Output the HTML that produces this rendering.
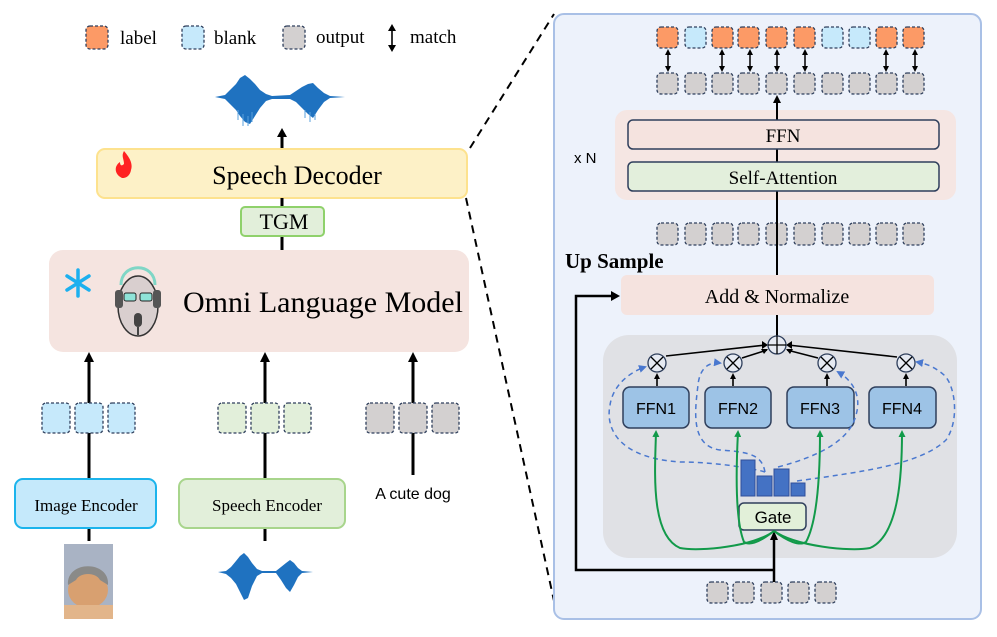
<!DOCTYPE html>
<html><head><meta charset="utf-8"><style>
html,body{margin:0;padding:0;background:#fff;}
svg{display:block;}
.serif{font-family:"Liberation Serif",serif;}
.sans{font-family:"Liberation Sans",sans-serif;}
</style></head><body>
<svg width="997" height="637" viewBox="0 0 997 637" xmlns="http://www.w3.org/2000/svg">
<defs>
<marker id="ahg" markerWidth="7" markerHeight="7" refX="5" refY="3.5" orient="auto" markerUnits="userSpaceOnUse"><path d="M0,0 L7,3.5 L0,7 z" fill="#129a4a"/></marker>
<marker id="ahb" markerWidth="8" markerHeight="8" refX="6" refY="4" orient="auto" markerUnits="userSpaceOnUse"><path d="M0,0 L8,4 L0,8 z" fill="#4a78cf"/></marker>
</defs>

<!-- dashed zoom lines -->
<line x1="470" y1="148" x2="554" y2="14" stroke="#000" stroke-width="2" stroke-dasharray="8,6"/>
<line x1="466" y1="198" x2="556" y2="610" stroke="#000" stroke-width="2" stroke-dasharray="8,6"/>

<!-- legend -->
<rect x="86" y="26" width="22" height="23" rx="4" fill="#fc9a66" stroke="#2f3f5c" stroke-width="1.3" stroke-dasharray="3,2"/>
<text x="120" y="44" class="serif" font-size="19">label</text>
<rect x="182" y="26" width="22" height="23" rx="4" fill="#c6e9fb" stroke="#2f3f5c" stroke-width="1.3" stroke-dasharray="3,2"/>
<text x="214" y="44" class="serif" font-size="19">blank</text>
<rect x="283" y="26" width="22" height="23" rx="4" fill="#d3d0d0" stroke="#2f3f5c" stroke-width="1.3" stroke-dasharray="3,2"/>
<text x="316" y="43" class="serif" font-size="19">output</text>
<line x1="392" y1="27" x2="392" y2="49" stroke="#000" stroke-width="1.6"/>
<path d="M388,31 L392,24 L396,31z M388,45 L392,52 L396,45z" fill="#000"/>
<text x="410" y="43" class="serif" font-size="19">match</text>

<!-- top waveform -->
<path d="M215,97 L225,95 L230,90 L236,84 L240,78 L245,75 L250,79 L255,84 L260,90 L266,94 L272,96 L290,95 L296,91 L302,87 L308,84 L313,83 L318,88 L324,93 L330,96 L345,97 L330,98 L324,102 L318,110 L313,118 L308,114 L302,108 L296,102 L290,99 L272,99 L266,101 L260,108 L255,116 L250,124 L245,122 L240,116 L236,110 L230,104 L225,99z" fill="#1f72c0"/>
<g stroke="#5aa0dc" stroke-width="1">
<path d="M238,110 L238,120 M243,114 L243,126 M248,116 L248,126 M252,112 L252,122 M305,110 L305,118 M310,112 L310,122 M315,114 L315,120"/>
</g>
<line x1="282" y1="148" x2="282" y2="136" stroke="#000" stroke-width="3"/>
<path d="M277,137 L282,128 L287,137z" fill="#000"/>

<!-- speech decoder -->
<rect x="97" y="149" width="370" height="49" rx="8" fill="#fdf1c7" stroke="#fde28e" stroke-width="2"/>
<path d="M122,178 C114,174 114,166 120,162 C120,166 122,166 124,164 C124,159 121,156 124,151 C130,158 133,164 131,170 C130,176 126,178 122,178z" fill="#f22"/>
<text x="297" y="184" text-anchor="middle" class="serif" font-size="26">Speech Decoder</text>
<line x1="282" y1="198" x2="282" y2="250" stroke="#000" stroke-width="3"/>
<rect x="241" y="207" width="83" height="29" rx="4" fill="#e2efda" stroke="#8fd16b" stroke-width="2"/>
<text x="284" y="229" text-anchor="middle" class="serif" font-size="22">TGM</text>

<!-- omni -->
<rect x="49" y="250" width="420" height="102" rx="14" fill="#f5e4e0"/>
<g stroke="#1cb0ef" stroke-width="3.5" stroke-linecap="round">
<line x1="78" y1="270" x2="78" y2="296"/><line x1="67" y1="276" x2="89" y2="290"/><line x1="67" y1="290" x2="89" y2="276"/>
</g>
<g>
<ellipse cx="138" cy="306" rx="20" ry="30" fill="#d9cfcf" stroke="#333" stroke-width="1.5"/>
<path d="M121,285 C121,262 155,262 155,285" fill="none" stroke="#7fd6c6" stroke-width="3"/>
<rect x="115" y="290" width="8" height="18" rx="3" fill="#555"/><rect x="153" y="290" width="8" height="18" rx="3" fill="#555"/>
<rect x="124" y="293" width="12" height="8" rx="2" fill="#8fe3d8" stroke="#222"/><rect x="140" y="293" width="12" height="8" rx="2" fill="#8fe3d8" stroke="#222"/>
<rect x="134" y="313" width="8" height="14" rx="4" fill="#444"/><line x1="138" y1="327" x2="138" y2="335" stroke="#444" stroke-width="2"/>
</g>
<text x="183" y="312" class="serif" font-size="30">Omni Language Model</text>

<!-- inputs -->
<g stroke="#000" stroke-width="3">
<line x1="89" y1="478" x2="89" y2="360"/><line x1="265" y1="478" x2="265" y2="360"/><line x1="413" y1="475" x2="413" y2="360"/>
<line x1="89" y1="528" x2="89" y2="541"/><line x1="265" y1="528" x2="265" y2="541"/>
</g>
<path d="M84,362 L89,352 L94,362z M260,362 L265,352 L270,362z M408,362 L413,352 L418,362z" fill="#000"/>
<g stroke="#2f3f5c" stroke-dasharray="3,2" stroke-width="1.3">
<rect x="42" y="403" width="28" height="30" rx="4" fill="#c6e9fb"/><rect x="75" y="403" width="28" height="30" rx="4" fill="#c6e9fb"/><rect x="108" y="403" width="27" height="30" rx="4" fill="#c6e9fb"/>
<rect x="218" y="403" width="28" height="30" rx="4" fill="#e2efda"/><rect x="251" y="403" width="28" height="30" rx="4" fill="#e2efda"/><rect x="284" y="403" width="27" height="30" rx="4" fill="#e2efda"/>
<rect x="366" y="403" width="28" height="30" rx="4" fill="#d3d0d0"/><rect x="399" y="403" width="28" height="30" rx="4" fill="#d3d0d0"/><rect x="432" y="403" width="27" height="30" rx="4" fill="#d3d0d0"/>
</g>
<rect x="15" y="479" width="141" height="49" rx="8" fill="#c5e9fb" stroke="#1cb4ec" stroke-width="2"/>
<text x="86" y="511" text-anchor="middle" class="serif" font-size="17">Image Encoder</text>
<rect x="179" y="479" width="166" height="49" rx="8" fill="#e2efda" stroke="#a8d58c" stroke-width="2"/>
<text x="267" y="511" text-anchor="middle" class="serif" font-size="17">Speech Encoder</text>
<text x="413" y="499" text-anchor="middle" class="sans" font-size="16">A cute dog</text>
<!-- dog -->
<rect x="64" y="544" width="49" height="75" fill="#a9b3c4"/>
<ellipse cx="88" cy="590" rx="20" ry="18" fill="#d8a070"/>
<path d="M68,585 C66,560 110,560 108,585 L100,580 C96,572 80,572 76,580z" fill="#8a8a88"/>
<rect x="64" y="605" width="49" height="14" fill="#e2b58a"/>
<!-- bottom waveform -->
<path d="M218,572 L226,571 L231,567 L236,561 L240,556 L244,553 L248,557 L252,563 L257,569 L262,571 L276,571 L281,567 L286,563 L290,560 L294,563 L298,568 L302,571 L313,572 L302,573 L298,577 L294,585 L290,592 L286,588 L281,580 L276,573 L262,573 L257,576 L252,586 L248,598 L244,600 L240,592 L236,584 L231,578 L226,574z" fill="#1f72c0"/>

<!-- right panel -->
<rect x="554" y="14" width="427" height="605" rx="10" fill="#edf2fb" stroke="#a9c0e6" stroke-width="2"/>
<g stroke="#2f3f5c" stroke-dasharray="3,2" stroke-width="1.3">
<rect x="657" y="27" width="21" height="21" rx="4" fill="#fc9a66"/>
<rect x="685" y="27" width="21" height="21" rx="4" fill="#c6e9fb"/>
<rect x="712" y="27" width="21" height="21" rx="4" fill="#fc9a66"/>
<rect x="738" y="27" width="21" height="21" rx="4" fill="#fc9a66"/>
<rect x="766" y="27" width="21" height="21" rx="4" fill="#fc9a66"/>
<rect x="794" y="27" width="21" height="21" rx="4" fill="#fc9a66"/>
<rect x="822" y="27" width="21" height="21" rx="4" fill="#c6e9fb"/>
<rect x="849" y="27" width="21" height="21" rx="4" fill="#c6e9fb"/>
<rect x="876" y="27" width="21" height="21" rx="4" fill="#fc9a66"/>
<rect x="903" y="27" width="21" height="21" rx="4" fill="#fc9a66"/>
</g>
<g stroke="#2f3f5c" stroke-dasharray="3,2" stroke-width="1.3" fill="#d3d0d0">
<rect x="657" y="73" width="21" height="21" rx="4"/><rect x="685" y="73" width="21" height="21" rx="4"/><rect x="712" y="73" width="21" height="21" rx="4"/><rect x="738" y="73" width="21" height="21" rx="4"/><rect x="766" y="73" width="21" height="21" rx="4"/><rect x="794" y="73" width="21" height="21" rx="4"/><rect x="822" y="73" width="21" height="21" rx="4"/><rect x="849" y="73" width="21" height="21" rx="4"/><rect x="876" y="73" width="21" height="21" rx="4"/><rect x="903" y="73" width="21" height="21" rx="4"/>
<rect x="657" y="223" width="21" height="22" rx="4"/><rect x="685" y="223" width="21" height="22" rx="4"/><rect x="712" y="223" width="21" height="22" rx="4"/><rect x="738" y="223" width="21" height="22" rx="4"/><rect x="766" y="223" width="21" height="22" rx="4"/><rect x="794" y="223" width="21" height="22" rx="4"/><rect x="822" y="223" width="21" height="22" rx="4"/><rect x="849" y="223" width="21" height="22" rx="4"/><rect x="876" y="223" width="21" height="22" rx="4"/><rect x="903" y="223" width="21" height="22" rx="4"/>
<rect x="707" y="582" width="21" height="21" rx="4"/><rect x="733" y="582" width="21" height="21" rx="4"/><rect x="761" y="582" width="21" height="21" rx="4"/><rect x="788" y="582" width="21" height="21" rx="4"/><rect x="815" y="582" width="21" height="21" rx="4"/>
</g>
<g stroke="#000" stroke-width="1.5">
<line x1="668" y1="53" x2="668" y2="68"/><line x1="722" y1="53" x2="722" y2="68"/><line x1="750" y1="53" x2="750" y2="68"/><line x1="777" y1="53" x2="777" y2="68"/><line x1="805" y1="53" x2="805" y2="68"/><line x1="886" y1="53" x2="886" y2="68"/><line x1="915" y1="53" x2="915" y2="68"/>
</g>
<g fill="#000">
<path d="M665,55 L668,49 L671,55z M665,66 L668,72 L671,66z"/>
<path d="M719,55 L722,49 L725,55z M719,66 L722,72 L725,66z"/>
<path d="M747,55 L750,49 L753,55z M747,66 L750,72 L753,66z"/>
<path d="M774,55 L777,49 L780,55z M774,66 L777,72 L780,66z"/>
<path d="M802,55 L805,49 L808,55z M802,66 L805,72 L808,66z"/>
<path d="M883,55 L886,49 L889,55z M883,66 L886,72 L889,66z"/>
<path d="M912,55 L915,49 L918,55z M912,66 L915,72 L918,66z"/>
</g>
<rect x="615" y="110" width="341" height="90" rx="12" fill="#f5e6e3"/>
<line x1="777" y1="315" x2="777" y2="98" stroke="#000" stroke-width="2"/>
<path d="M773,103 L777,95 L781,103z" fill="#000"/>
<rect x="628" y="120" width="311" height="29" rx="5" fill="#f5e3df" stroke="#2f3f5c" stroke-width="1.5"/>
<text x="783" y="142" text-anchor="middle" class="serif" font-size="19">FFN</text>
<rect x="628" y="162" width="311" height="29" rx="5" fill="#e3efdc" stroke="#2f3f5c" stroke-width="1.5"/>
<text x="783" y="184" text-anchor="middle" class="serif" font-size="19">Self-Attention</text>
<text x="574" y="163" class="sans" font-size="15">x N</text>
<text x="565" y="268" class="serif" font-size="21" font-weight="bold">Up Sample</text>
<rect x="621" y="275" width="313" height="40" rx="6" fill="#f5e3df"/>
<text x="777" y="303" text-anchor="middle" class="serif" font-size="20">Add &amp; Normalize</text>

<rect x="603" y="335" width="354" height="223" rx="26" fill="#e0e1e5"/>
<line x1="777" y1="315" x2="777" y2="336" stroke="#000" stroke-width="2"/>
<polyline points="774,570 576,570 576,296 612,296" fill="none" stroke="#000" stroke-width="2.5"/>
<path d="M611,291 L620,296 L611,301z" fill="#000"/>
<line x1="774" y1="582" x2="774" y2="538" stroke="#000" stroke-width="2.5"/>
<path d="M770,540 L774,531 L778,540z" fill="#000"/>
<g stroke="#000" stroke-width="1.6">
<line x1="666" y1="356" x2="766" y2="345"/>
<line x1="742" y1="358" x2="767" y2="350"/>
<line x1="818" y1="358" x2="787" y2="350"/>
<line x1="897" y1="357" x2="788" y2="345"/>
<line x1="657" y1="386" x2="657" y2="377"/><line x1="733" y1="386" x2="733" y2="377"/><line x1="827" y1="386" x2="827" y2="377"/><line x1="906" y1="386" x2="906" y2="377"/>
</g>
<path d="M654,379 L657,373 L660,379z M730,379 L733,373 L736,379z M824,379 L827,373 L830,379z M903,379 L906,373 L909,379z" fill="#000"/>
<path d="M762,341 L768,345 L762,349z M792,341 L786,345 L792,349z M761,349 L768,349 L764,354z M793,349 L786,349 L790,354z" fill="#000"/>
<circle cx="777" cy="345" r="9" fill="#e6eaf2" stroke="#2f3f5c" stroke-width="1.3"/>
<line x1="768" y1="345" x2="786" y2="345" stroke="#000" stroke-width="1.3"/><line x1="777" y1="336" x2="777" y2="354" stroke="#000" stroke-width="1.3"/>
<g fill="#e6eaf2" stroke="#2f3f5c" stroke-width="1.3">
<circle cx="657" cy="363" r="9"/><circle cx="733" cy="363" r="9"/><circle cx="827" cy="363" r="9"/><circle cx="906" cy="363" r="9"/>
</g>
<g stroke="#000" stroke-width="1.3">
<path d="M651,357 L663,369 M663,357 L651,369"/><path d="M727,357 L739,369 M739,357 L727,369"/><path d="M821,357 L833,369 M833,357 L821,369"/><path d="M900,357 L912,369 M912,357 L900,369"/>
</g>
<g fill="#9dc3e6" stroke="#2f3f5c" stroke-width="1.5">
<rect x="623" y="387" width="66" height="41" rx="7"/><rect x="705" y="387" width="66" height="41" rx="7"/><rect x="787" y="387" width="67" height="41" rx="7"/><rect x="869" y="387" width="67" height="41" rx="7"/>
</g>
<g class="sans" font-size="16" text-anchor="middle">
<text x="656" y="414">FFN1</text><text x="738" y="414">FFN2</text><text x="820" y="414">FFN3</text><text x="902" y="414">FFN4</text>
</g>
<g fill="none" stroke="#4a78cf" stroke-width="1.5" stroke-dasharray="5,4">
<path d="M765,472 C760,470 720,462 680,462 C620,458 605,430 610,405 C613,385 630,372 645,367" marker-end="url(#ahb)"/>
<path d="M765,472 C762,456 752,452 720,450 C690,446 695,410 698,385 C700,365 712,362 720,363" marker-end="url(#ahb)"/>
<path d="M778,467 C820,456 850,440 856,415 C862,395 852,380 838,372" marker-end="url(#ahb)"/>
<path d="M797,481 C860,472 920,465 946,440 C960,420 955,385 944,375 C936,368 928,364 917,362" marker-end="url(#ahb)"/>
</g>
<g fill="#4472c4" stroke="#2f4f9a" stroke-width="1">
<rect x="741" y="460" width="14" height="36"/><rect x="757" y="476" width="15" height="20"/><rect x="774" y="469" width="15" height="27"/><rect x="791" y="483" width="14" height="13"/>
</g>
<rect x="739" y="503" width="67" height="27" rx="5" fill="#e2f0d9" stroke="#2f3f5c" stroke-width="1.5"/>
<text x="773" y="523" text-anchor="middle" class="sans" font-size="17">Gate</text>
<g fill="none" stroke="#129a4a" stroke-width="2">
<path d="M774,531 C755,546 700,552 680,548 C650,535 655,470 656,432" marker-end="url(#ahg)"/>
<path d="M774,531 C760,542 750,546 744,542 C735,520 736,470 738,432" marker-end="url(#ahg)"/>
<path d="M774,531 C788,542 800,546 806,542 C818,520 820,470 820,432" marker-end="url(#ahg)"/>
<path d="M774,531 C795,546 850,552 870,548 C900,535 902,470 902,432" marker-end="url(#ahg)"/>
</g>
</svg>
</body></html>
